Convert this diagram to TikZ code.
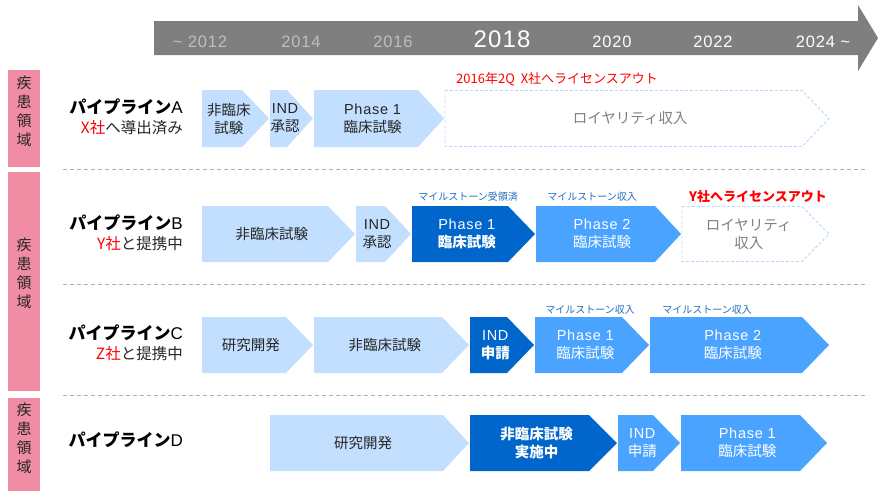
\documentclass[tikz,border=0pt]{standalone}
\usepackage{fontspec}
\setmainfont{Noto Sans CJK JP}
\newfontfamily\lat[LetterSpace=5]{Liberation Sans}
\definecolor{lblue}{HTML}{C2DFFF}
\definecolor{mblue}{HTML}{4AA3FF}
\definecolor{dblue}{HTML}{0066CC}
\definecolor{pinkbar}{HTML}{F08CA3}
\definecolor{tgray}{HTML}{7F7F7F}
\definecolor{oldyear}{HTML}{BEBEBE}
\definecolor{dashb}{HTML}{B8D9FF}
\definecolor{msblue}{HTML}{1F6BC0}
\definecolor{redt}{HTML}{FF0000}
\definecolor{sepgray}{HTML}{B0B0B0}
\newcommand\chev[9]{%
  \path[#2] (#4,#7) -- (#5,#7) -- (#6,{(#7+#8)/2}) -- (#5,#8) -- (#4,#8) -- cycle;
  \node[#3] (#1) at ({(#4+(#5+#6)/2)/2},{(#7+#8)/2}) {#9};
}
\tikzset{
  light/.style={fill=lblue},
  mid/.style={fill=mblue},
  dark/.style={fill=dblue},
  dashbox/.style={draw=dashb, line width=0.9pt, dash pattern=on 3pt off 2pt, fill=white},
  ctext/.style={align=center, inner sep=0pt, font=\fontsize{14.5}{18}\selectfont},
  lt/.style={ctext, text=black!85},
  wt/.style={ctext, text=white},
  gt/.style={ctext, text=black!50},
  year/.style={anchor=base, inner sep=0pt, font=\lat\fontsize{16.5}{18}\selectfont},
  bartext/.style={align=center, inner sep=0pt, text=black!85, font=\fontsize{15}{19}\selectfont},
  ptitle/.style={anchor=east, inner sep=0pt, text=black, font=\fontsize{17}{20}\selectfont},
  psub/.style={anchor=east, inner sep=0pt, text=black!85, font=\fontsize{15.5}{18}\selectfont},
  ms/.style={inner sep=0pt, text=msblue, font=\fontsize{10}{12}\selectfont},
  redlbl/.style={inner sep=0pt, text=redt, font=\fontsize{13}{15}\selectfont},
  sep/.style={draw=sepgray, line width=0.8pt, dash pattern=on 4pt off 3pt},
}
\begin{document}
\begin{tikzpicture}[x=1pt, y=-1pt]
\useasboundingbox (0,0) rectangle (878,491);
% timeline arrow
\path[fill=tgray] (154,21) -- (858,21) -- (858,5) -- (878,38) -- (858,71) -- (858,55) -- (154,55) -- cycle;
\node[year, text=oldyear] (y12) at (200,47.5) {\textasciitilde\ 2012};
\node[year, text=oldyear] (y14) at (301,47.5) {2014};
\node[year, text=oldyear] (y16) at (393,47.5) {2016};
\node[year, text=white, font=\lat\fontsize{24}{26}\selectfont] (y18) at (502,47) {2018};
\node[year, text=white] (y20) at (612,47.5) {2020};
\node[year, text=white] (y22) at (713,47.5) {2022};
\node[year, text=white] (y24) at (823,47.5) {2024 \textasciitilde};
% pink bars
\path[fill=pinkbar] (8,70) rectangle (40,167);
\path[fill=pinkbar] (8,172) rectangle (40,391);
\path[fill=pinkbar] (8,398) rectangle (40,491);
\node[bartext] (barA) at (24,111) {疾\\患\\領\\域};
\node[bartext] (barB) at (24,273) {疾\\患\\領\\域};
\node[bartext] (barD) at (24,438) {疾\\患\\領\\域};
% separators
\coordinate (s1a) at (63,169); \coordinate (s1b) at (868,169);
\coordinate (s2a) at (63,284); \coordinate (s2b) at (868,284);
\coordinate (s3a) at (63,395); \coordinate (s3b) at (868,395);
\draw[sep] (s1a) -- (s1b);
\draw[sep] (s2a) -- (s2b);
\draw[sep] (s3a) -- (s3b);
% row labels
\node[ptitle] (pA) at (183,107) {{\bfseries パイプライン}{\lat A}};
\node[psub] (sA) at (183,128) {\textcolor{redt}{X社}へ導出済み};
\node[ptitle] (pB) at (183,223) {{\bfseries パイプライン}{\lat B}};
\node[psub] (sB) at (183,244) {\textcolor{redt}{Y社}と提携中};
\node[ptitle] (pC) at (183,333) {{\bfseries パイプライン}{\lat C}};
\node[psub] (sC) at (183,354) {\textcolor{redt}{Z社}と提携中};
\node[ptitle] (pD) at (183,440) {{\bfseries パイプライン}{\lat D}};
% row A
\chev{a1}{light}{lt}{202}{242}{269}{90}{147}{非臨床\\試験}
\chev{a2}{light}{lt}{270}{287}{313}{90}{147}{{\lat IND}\\承認}
\chev{a3}{light}{lt}{314}{418}{444}{90}{147}{{\lat Phase 1}\\臨床試験}
\chev{a4}{dashbox}{gt}{445}{802}{829}{90.5}{146.5}{ロイヤリティ収入}
\node[redlbl, anchor=west] (la) at (456,79) {2016年2Q\ \ X社へライセンスアウト};
% row B
\chev{b1}{light}{lt}{202}{328}{355}{206}{262}{非臨床試験}
\chev{b2}{light}{lt}{356}{385}{411}{206}{262}{{\lat IND}\\承認}
\chev{b3}{dark}{wt}{412}{508}{535}{206}{262}{{\lat Phase 1}\\\textbf{臨床試験}}
\chev{b4}{mid}{wt}{536}{655}{681}{206}{262}{{\lat Phase 2}\\臨床試験}
\chev{b5}{dashbox}{gt}{682}{802}{829}{206.5}{261.5}{ロイヤリティ\\収入}
\node[ms] (mb3) at (468,197) {マイルストーン受領済};
\node[ms] (mb4) at (592,197) {マイルストーン収入};
\node[redlbl, font=\bfseries\fontsize{13}{15}\selectfont] (lb) at (758,197) {Y社へライセンスアウト};
% row C
\chev{c1}{light}{lt}{202}{286}{313}{317}{373}{研究開発}
\chev{c2}{light}{lt}{314}{442}{469}{317}{373}{非臨床試験}
\chev{c3}{dark}{wt}{470}{507}{534}{317}{373}{{\lat IND}\\\textbf{申請}}
\chev{c4}{mid}{wt}{535}{622}{649}{317}{373}{{\lat Phase 1}\\臨床試験}
\chev{c5}{mid}{wt}{650}{802}{829}{317}{373}{{\lat Phase 2}\\臨床試験}
\node[ms] (mc4) at (590,310) {マイルストーン収入};
\node[ms] (mc5) at (707,310) {マイルストーン収入};
% row D
\chev{d1}{light}{lt}{270}{443}{469}{415}{471}{研究開発}
\chev{d2}{dark}{wt}{470}{589}{617}{415}{471}{\textbf{非臨床試験}\\\textbf{実施中}}
\chev{d3}{mid}{wt}{618}{653}{680}{415}{471}{{\lat IND}\\申請}
\chev{d4}{mid}{wt}{681}{800}{827}{415}{471}{{\lat Phase 1}\\臨床試験}
\end{tikzpicture}
\end{document}
